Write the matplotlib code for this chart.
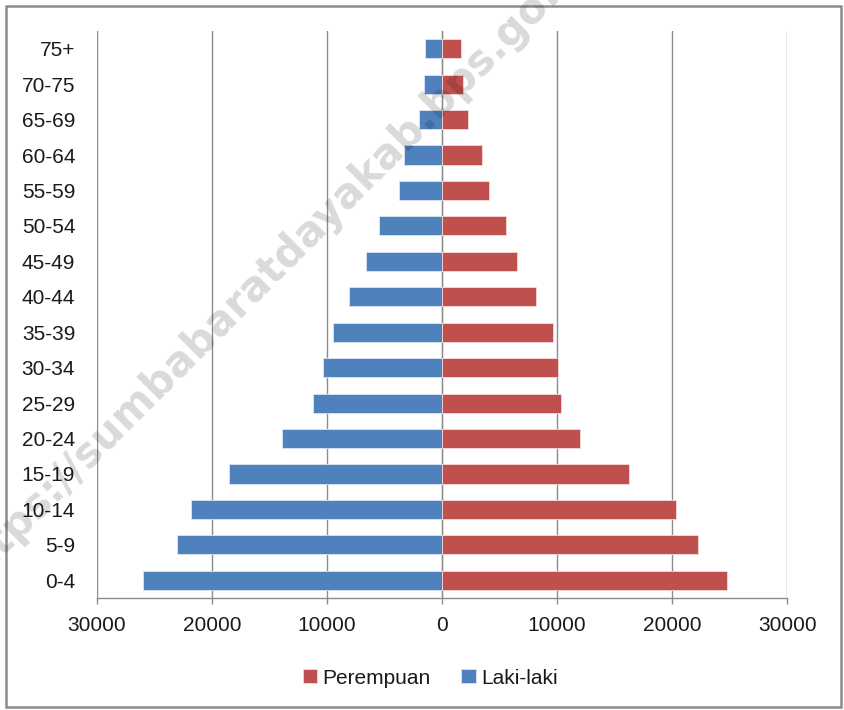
import matplotlib
matplotlib.use("Agg")
import matplotlib.pyplot as plt
from matplotlib.patches import Rectangle
from matplotlib.ticker import FuncFormatter

categories = ["0-4", "5-9", "10-14", "15-19", "20-24", "25-29", "30-34", "35-39",
              "40-44", "45-49", "50-54", "55-59", "60-64", "65-69", "70-75", "75+"]
laki_laki = [25950, 23020, 21770, 18470, 13910, 11190, 10320, 9450,
             8090, 6610, 5450, 3710, 3340, 1970, 1600, 1510]
perempuan = [24720, 22200, 20370, 16290, 11950, 10330, 10040, 9640,
             8190, 6540, 5560, 4110, 3440, 2290, 1820, 1680]
xticks = [-30000, -20000, -10000, 0, 10000, 20000, 30000]

BLUE = "#4F81BD"
RED = "#C0504D"
GRID = "#8C8C8C"
TEXT = "#1A1A1A"
FONT = "Liberation Sans"
FS = 15

fig = plt.figure(figsize=(8.45, 7.10), dpi=100)
fig.patch.set_facecolor("white")

ax = fig.add_axes([96.7 / 845, 112 / 710, 690.6 / 845, 567 / 710])
ypos = list(range(len(categories)))

ax.barh(ypos, [-v for v in laki_laki], height=0.54, color=BLUE,
        edgecolor="#DCE6F2", linewidth=0.6, label="Laki-laki", zorder=3)
ax.barh(ypos, perempuan, height=0.54, color=RED,
        edgecolor="#F2DCDB", linewidth=0.6, label="Perempuan", zorder=3)

ax.set_xlim(-30000, 30000)
ax.set_ylim(-0.5, len(categories) - 0.5)
ax.set_xticks(xticks)
ax.xaxis.set_major_formatter(FuncFormatter(lambda v, p: f"{abs(int(v))}"))
ax.set_yticks(ypos)
ax.set_yticklabels(categories)

for t in xticks:
    ax.axvline(t, color=GRID, linewidth=1.0, zorder=1)

for s in ["top", "right", "left"]:
    ax.spines[s].set_visible(False)
ax.spines["bottom"].set_color(GRID)
ax.spines["bottom"].set_linewidth(1.0)

ax.tick_params(axis="x", direction="out", length=4, width=1, color=GRID,
               labelsize=FS, labelcolor=TEXT, pad=9)
ax.tick_params(axis="y", length=0, labelsize=FS, labelcolor=TEXT, pad=15.5)
for lab in ax.get_xticklabels() + ax.get_yticklabels():
    lab.set_fontfamily(FONT)

# zero axis with small category ticks
sec = ax.secondary_yaxis(0.5)
sec.set_yticks(ypos)
sec.set_yticklabels([])
sec.tick_params(axis="y", length=4, width=1, color=GRID)
sec.spines["left"].set_color(GRID)
sec.spines["left"].set_linewidth(1.2)

# legend
h, l = ax.get_legend_handles_labels()
leg = fig.legend([h[1], h[0]], [l[1], l[0]], loc="center",
                 bbox_to_anchor=(430 / 845, 32 / 710), ncol=2, frameon=False,
                 handlelength=0.68, handleheight=0.68, handletextpad=0.25,
                 columnspacing=1.5, borderpad=0, prop={"family": FONT, "size": FS})
for t in leg.get_texts():
    t.set_color(TEXT)

# outer border
fig.patches.append(Rectangle((6 / 845, 3 / 710), 835 / 845, 701.5 / 710,
                             transform=fig.transFigure, fill=False,
                             edgecolor="#8C8C8C", linewidth=1.8))

# watermark
fig.text(272 / 845, 1 - 268 / 710, "https://sumbabaratdayakab.bps.go.id",
         rotation=45, ha="center", va="center", fontsize=30,
         fontweight="bold", family="DejaVu Sans", color="black", alpha=0.15,
         zorder=10)

fig.savefig("out.png", dpi=100, facecolor="white")
